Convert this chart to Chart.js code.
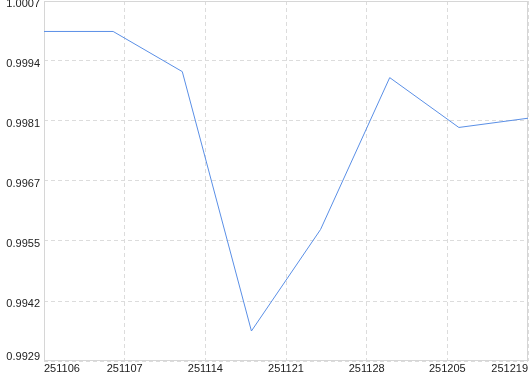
<!DOCTYPE html>
<html>
<head>
<meta charset="utf-8">
<script src="https://cdn.jsdelivr.net/npm/chart.js@4"></script>
<style>
  html, body { margin: 0; padding: 0; background: #fff; }
  canvas { display: block; }
</style>
</head>
<body>
<canvas id="myChart" width="530" height="374"></canvas>
<script>
// dates of each sample (yymmdd) and the value
const dates = ['251106', '251107', '251114', '251121', '251128', '251205', '251212', '251219'];
const values = [1.00004, 1.00004, 0.99917, 0.99355, 0.99575, 0.99904, 0.99796, 0.99816];

// y axis ticks and the labels shown for them
const yTicks = [0.9929, 0.9942, 0.9955, 0.9968, 0.9981, 0.9994, 1.0007];
const yTickLabels = ['0.9929', '0.9942', '0.9955', '0.9967', '0.9981', '0.9994', '1.0007'];

const xTickCount = 7; // x grid splits the range into 6 equal steps

// solid frame round the plot area
const frame = {
    id: 'frame',
    beforeDatasetsDraw(chart) {
        const {ctx, chartArea: a} = chart;
        ctx.save();
        ctx.strokeStyle = '#d6d6d6';
        ctx.lineWidth = 1;
        ctx.strokeRect(Math.round(a.left) + 0.5, Math.round(a.top) + 0.5,
            Math.round(a.right - a.left) - 1, Math.round(a.bottom - a.top) - 1);
        ctx.restore();
    }
};

function createChart(){
    const ctx = document.getElementById('myChart');
    const last = dates.length - 1;
    new Chart(ctx, {
        type: 'line',
        data: {
            datasets: [{
                data: values.map((v, i) => ({x: i, y: v})),
                borderColor: '#5a8fe6',
                backgroundColor: '#5a8fe6',
                borderWidth: 1,
                pointRadius: 0,
                tension: 0,
                fill: false
            }]
        },
        options: {
            responsive: false,
            animation: false,
            layout: { padding: { top: 1, right: 2, left: 0, bottom: 0 } },
            plugins: { legend: { display: false }, tooltip: { enabled: false } },
            scales: {
                x: {
                    type: 'linear',
                    min: 0,
                    max: last,
                    afterBuildTicks: axis => {
                        axis.ticks = [];
                        for (let i = 0; i < xTickCount; i++) {
                            axis.ticks.push({ value: i * last / (xTickCount - 1) });
                        }
                    },
                    afterFit: scale => {
                        scale.height = 13;
                        scale.paddingLeft = 0;
                        scale.paddingRight = 0;
                    },
                    grid: { color: '#dcdcdc', drawTicks: false },
                    border: { display: false, dash: [4, 3] },
                    ticks: {
                        autoSkip: false,
                        maxRotation: 0,
                        align: 'inner',
                        padding: 1,
                        color: '#222',
                        font: { family: 'Liberation Sans, Arial, sans-serif', size: 11 },
                        callback: v => dates[Math.floor(v + 1e-6)]
                    }
                },
                y: {
                    min: yTicks[0],
                    max: yTicks[yTicks.length - 1],
                    afterBuildTicks: axis => {
                        axis.ticks = yTicks.map(v => ({ value: v }));
                    },
                    afterFit: scale => {
                        scale.width = 44;
                        scale.paddingTop = 0;
                        scale.paddingBottom = 0;
                    },
                    grid: { color: '#dcdcdc', drawTicks: false },
                    border: { display: false, dash: [4, 3] },
                    ticks: {
                        padding: 4,
                        labelOffset: 3,
                        color: '#222',
                        font: { family: 'Liberation Sans, Arial, sans-serif', size: 11 },
                        // lowest label sits above its line, kept inside the plot
                        callback: (v, i) => i === 0 ? [yTickLabels[i], ''] : yTickLabels[i]
                    }
                }
            }
        },
        plugins: [frame]
    });
}

createChart();
</script>
</body>
</html>
